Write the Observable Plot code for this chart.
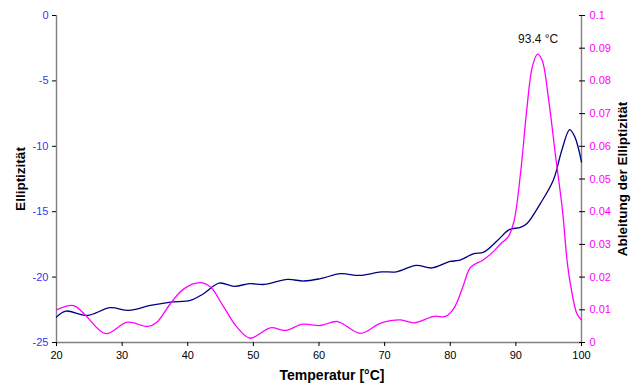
<!DOCTYPE html>
<html>
<head>
<meta charset="utf-8">
<script src="https://cdn.jsdelivr.net/npm/d3@7"></script>
<script src="https://cdn.jsdelivr.net/npm/@observablehq/plot@0.6"></script>
<style>
  html, body { margin: 0; padding: 0; background: #fff; }
  #chart svg { display: block; }
</style>
</head>
<body>
<div id="chart"></div>
<script>
// ---- data ----
const tempBlue = [20,21.4,24.7,28.2,31,34.3,37.4,40.4,42.4,44.8,47.1,49.4,51.7,55.2,57.7,60.2,63.3,66.2,69.5,71.8,74.8,77.2,80,81.3,83.6,85.1,87.2,89,90.7,91.7,93.7,95.7,97,98.2,99,100];
const ellip = [-23.06,-22.6,-22.93,-22.34,-22.55,-22.17,-21.91,-21.78,-21.27,-20.46,-20.71,-20.5,-20.56,-20.18,-20.3,-20.12,-19.74,-19.87,-19.6,-19.6,-19.1,-19.3,-18.8,-18.73,-18.21,-18.09,-17.2,-16.37,-16.2,-15.9,-14.4,-12.6,-10.3,-8.72,-9.3,-11.2];

const tempDeriv = [20,22.6,24.2,27.5,30.8,33.9,35.3,37.4,39.4,41.9,43.5,45.5,47.5,49.5,52.6,54.9,57.5,60.2,62.8,66.3,69.4,72.4,74.5,77.5,79.3,80.6,81.9,83.1,84.9,86.2,87.7,88.8,89.7,90.7,91.7,92.5,93.3,94,95,96,97.1,97.8,98.3,99.3,100];
const deriv = [0.0100,0.0113,0.0088,0.0027,0.0062,0.0049,0.0062,0.0120,0.0164,0.0183,0.0169,0.0108,0.0047,0.0013,0.0045,0.0037,0.0056,0.0052,0.0064,0.0028,0.0059,0.0069,0.0060,0.0080,0.0080,0.0106,0.0169,0.0230,0.0251,0.0271,0.0302,0.0322,0.0370,0.0516,0.0720,0.0843,0.0882,0.0863,0.0741,0.0578,0.0404,0.0251,0.0180,0.0088,0.0069];

const xTicks = [20,30,40,50,60,70,80,90,100];
const leftTicks = [0,-5,-10,-15,-20,-25];
const rightTicks = [0,0.01,0.02,0.03,0.04,0.05,0.06,0.07,0.08,0.09,0.1];
const peakLabel = ["93.4 °C"];
const peakTemp = [93.4];

const xTitle = "Temperatur [°C]";
const yTitleLeft = "Elliptizität";
const yTitleRight = "Ableitung der Elliptizität";

// ---- derived tables ----
const leftDomain = [-25, 0];
const rightDomain = [0, 0.1];
const toLeft = d => leftDomain[0] + (d - rightDomain[0]) / (rightDomain[1] - rightDomain[0]) * (leftDomain[1] - leftDomain[0]);

const blueData = tempBlue.map((t, i) => ({t, v: ellip[i]}));
const magData = tempDeriv.map((t, i) => ({t, v: toLeft(deriv[i])}));
const peakIdx = d3.maxIndex(deriv);
const peakData = [{t: peakTemp[0], v: toLeft(deriv[peakIdx]), label: peakLabel[0]}];
const xExt = d3.extent(xTicks);

const font = "'Liberation Sans', Arial, Helvetica, sans-serif";

const chart = Plot.plot({
  width: 634,
  height: 383,
  marginTop: 15,
  marginBottom: 41,
  marginLeft: 56,
  marginRight: 53,
  style: {fontFamily: font, fontSize: "11px", background: "#fff", color: "#000"},
  x: {domain: xExt, nice: false},
  y: {domain: leftDomain, nice: false},
  marks: [
    // axis lines
    Plot.ruleX(xExt, {stroke: "#808080", strokeWidth: 1.4}),
    Plot.ruleY([leftDomain[0]], {stroke: "#808080", strokeWidth: 1.4}),
    // bottom axis
    Plot.axisX({anchor: "bottom", ticks: xTicks, tickSize: 4, tickPadding: 5, label: null, fontSize: 11, tickFormat: d => String(d)}),
    // left axis ticks + labels
    Plot.axisY({anchor: "left", ticks: leftTicks, tickSize: 4, text: null, label: null}),
    Plot.axisY({anchor: "left", ticks: leftTicks, tickSize: 0, tickPadding: 8, label: null, fill: "#3535f5", fontSize: 11, tickFormat: d => String(d)}),
    // right axis ticks (crossing) + labels
    Plot.axisY({anchor: "right", ticks: rightTicks.map(toLeft), tickSize: 6, dx: -3, text: null, label: null}),
    Plot.text(rightTicks, {x: xExt[1], y: d => toLeft(d), text: d => String(d), dx: 8, textAnchor: "start", fill: "#ff00ff", fontSize: 11}),
    // curves
    Plot.line(blueData, {x: "t", y: "v", stroke: "#000080", strokeWidth: 1.3, curve: "catmull-rom"}),
    Plot.line(magData, {x: "t", y: "v", stroke: "#ff00ff", strokeWidth: 1.3, curve: "catmull-rom"}),
    // peak label
    Plot.text(peakData, {x: "t", y: "v", text: "label", dy: -11, lineAnchor: "bottom", fontSize: 12, fill: "#111"}),
    // axis titles
    Plot.text([xTitle], {frameAnchor: "bottom", dx: 13, dy: 33, textAnchor: "middle", lineAnchor: "middle", fontSize: 14, fontWeight: "bold"}),
    Plot.text([yTitleLeft], {frameAnchor: "left", dx: -36, rotate: -90, textAnchor: "middle", lineAnchor: "middle", fontSize: 13.5, fontWeight: "bold"}),
    Plot.text([yTitleRight], {frameAnchor: "right", dx: 41, rotate: -90, textAnchor: "middle", lineAnchor: "middle", fontSize: 13.5, fontWeight: "bold"})
  ]
});
document.getElementById("chart").appendChild(chart);
</script>
</body>
</html>
